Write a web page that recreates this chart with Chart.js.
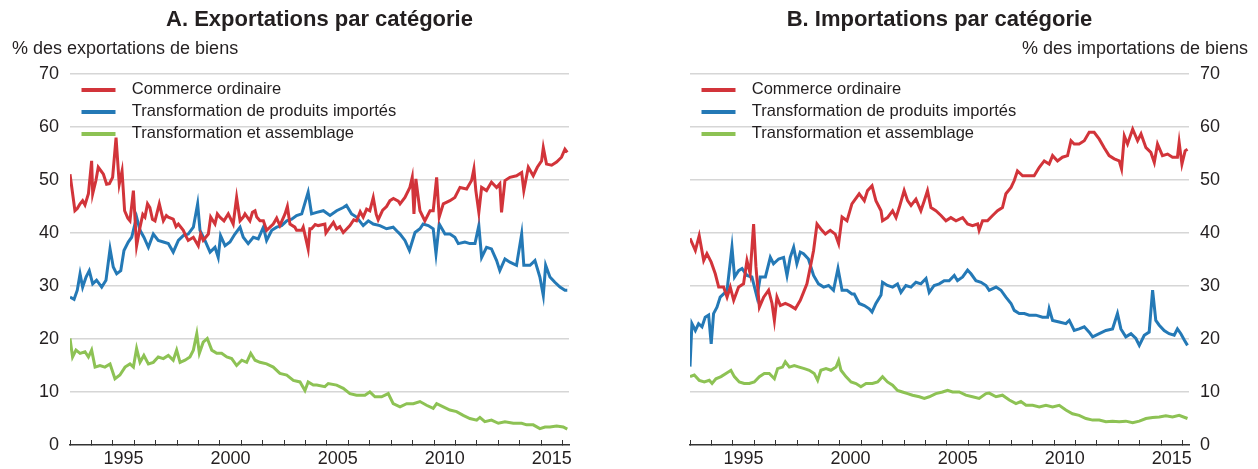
<!DOCTYPE html>
<html lang="fr">
<head>
<meta charset="utf-8">
<title>Exportations et importations par catégorie</title>
<script src="https://cdn.jsdelivr.net/npm/chart.js@4.4.1/dist/chart.umd.min.js"></script>
<style>
  html, body { margin: 0; padding: 0; background: #ffffff; }
  .wrap { display: flex; width: 1258px; height: 469px; }
  .panel { position: relative; width: 629px; height: 469px; }
</style>
</head>
<body>
<div class="wrap">
  <div class="panel"><canvas id="exportsChart"></canvas></div>
  <div class="panel"><canvas id="importsChart"></canvas></div>
</div>
<script>
// Series labels and colours
const seriesLabels = ['Commerce ordinaire', 'Transformation de produits importés', 'Transformation et assemblage'];
const seriesColors = ['#d2343a', '#2479b6', '#8dc254'];

// Axis ticks
const yTicks = [0, 10, 20, 30, 40, 50, 60, 70];
const xLabelYears = [1995, 2000, 2005, 2010, 2015];

// A. Exportations - [année, %]
const exportsOrdinary = [
  [1993.00, 51.1], [1993.23, 44.2], [1993.34, 44.6], [1993.47, 45.5], [1993.59, 46.1], [1993.70, 45.3],
  [1993.86, 47.4], [1994.01, 53.6], [1994.06, 47.4], [1994.21, 49.9], [1994.32, 52.4], [1994.45, 51.7],
  [1994.56, 51.1], [1994.71, 49.2], [1994.84, 49.3], [1994.99, 50.5], [1995.15, 58.0], [1995.30, 49.2],
  [1995.43, 51.7], [1995.55, 44.2], [1995.70, 42.8], [1995.80, 42.3], [1995.96, 48.0], [1996.11, 37.6],
  [1996.27, 41.1], [1996.40, 43.5], [1996.50, 43.0], [1996.62, 45.5], [1996.73, 44.8], [1996.85, 42.6],
  [1996.97, 42.3], [1997.17, 45.5], [1997.36, 42.3], [1997.50, 43.3], [1997.59, 43.0], [1997.82, 42.6],
  [1997.95, 41.2], [1998.06, 41.7], [1998.29, 40.5], [1998.40, 39.5], [1998.52, 38.6], [1998.76, 39.2],
  [1998.99, 37.6], [1999.10, 39.8], [1999.22, 38.6], [1999.46, 39.8], [1999.57, 43.0], [1999.77, 41.7],
  [1999.88, 43.6], [2000.00, 43.0], [2000.19, 42.3], [2000.39, 43.6], [2000.62, 41.7], [2000.78, 46.7],
  [2000.94, 42.3], [2001.09, 43.0], [2001.17, 43.6], [2001.40, 42.3], [2001.52, 43.9], [2001.64, 44.2],
  [2001.72, 43.0], [2001.87, 42.3], [2002.03, 42.3], [2002.18, 40.5], [2002.34, 41.1], [2002.49, 41.7],
  [2002.65, 42.8], [2002.80, 41.4], [2003.04, 43.6], [2003.15, 45.0], [2003.27, 41.7], [2003.50, 41.1],
  [2003.58, 40.5], [2003.82, 40.5], [2003.89, 41.1], [2004.12, 37.0], [2004.20, 40.8], [2004.28, 40.8],
  [2004.45, 41.6], [2004.59, 41.4], [2004.90, 41.7], [2004.95, 40.0], [2005.14, 41.1], [2005.30, 42.0],
  [2005.45, 40.8], [2005.60, 41.2], [2005.76, 40.1], [2006.07, 41.4], [2006.25, 42.5], [2006.38, 42.3],
  [2006.55, 44.0], [2006.69, 43.0], [2006.85, 44.5], [2007.00, 44.2], [2007.16, 46.7], [2007.30, 43.5],
  [2007.39, 42.5], [2007.60, 44.3], [2007.78, 45.0], [2007.94, 46.1], [2008.10, 46.5], [2008.33, 46.0],
  [2008.41, 45.5], [2008.64, 46.7], [2008.87, 48.6], [2008.98, 50.5], [2009.06, 43.6], [2009.15, 50.2],
  [2009.34, 44.2], [2009.57, 42.3], [2009.81, 44.2], [2009.96, 44.2], [2010.12, 50.5], [2010.24, 43.0],
  [2010.43, 45.5], [2010.74, 46.1], [2010.97, 46.7], [2011.21, 48.6], [2011.52, 48.3], [2011.75, 49.9],
  [2011.86, 52.1], [2011.95, 48.0], [2012.09, 43.9], [2012.22, 48.6], [2012.45, 48.0], [2012.68, 49.6],
  [2012.92, 48.6], [2013.07, 49.3], [2013.15, 43.9], [2013.31, 49.9], [2013.54, 50.5], [2013.85, 50.8],
  [2014.09, 51.4], [2014.19, 48.0], [2014.40, 52.4], [2014.63, 50.8], [2014.82, 52.4], [2015.02, 53.6],
  [2015.10, 56.1], [2015.25, 53.0], [2015.49, 52.8], [2015.72, 53.4], [2015.95, 54.3], [2016.11, 55.8],
  [2016.22, 55.2]
];
const exportsProcessing = [
  [1993.00, 27.9], [1993.19, 27.5], [1993.34, 29.2], [1993.47, 32.3], [1993.59, 29.8], [1993.75, 31.7],
  [1993.90, 32.9], [1994.06, 30.4], [1994.24, 31.1], [1994.48, 29.8], [1994.68, 31.1], [1994.87, 37.0],
  [1995.02, 33.6], [1995.18, 32.3], [1995.37, 32.9], [1995.52, 36.7], [1995.72, 38.3], [1995.88, 39.2],
  [1996.11, 43.0], [1996.27, 40.5], [1996.45, 39.2], [1996.66, 37.3], [1996.89, 39.8], [1997.12, 38.6],
  [1997.36, 38.3], [1997.59, 38.0], [1997.82, 36.4], [1998.06, 38.6], [1998.29, 39.5], [1998.52, 39.8],
  [1998.76, 41.1], [1998.96, 45.5], [1999.07, 40.5], [1999.30, 38.6], [1999.54, 36.4], [1999.77, 37.3],
  [1999.92, 35.4], [2000.03, 39.5], [2000.24, 37.6], [2000.47, 38.3], [2000.70, 39.8], [2000.94, 41.1],
  [2001.09, 39.2], [2001.32, 38.0], [2001.56, 39.2], [2001.79, 38.9], [2002.03, 41.1], [2002.18, 38.6],
  [2002.42, 40.5], [2002.65, 41.1], [2002.88, 41.4], [2003.12, 42.3], [2003.35, 42.6], [2003.58, 43.3],
  [2003.82, 43.6], [2004.12, 47.7], [2004.28, 43.6], [2004.52, 43.9], [2004.83, 44.2], [2005.14, 43.3],
  [2005.45, 44.2], [2005.76, 44.8], [2005.91, 45.2], [2006.15, 43.6], [2006.38, 43.0], [2006.69, 41.4],
  [2006.93, 42.3], [2007.16, 41.7], [2007.47, 41.4], [2007.78, 40.8], [2008.09, 41.1], [2008.33, 40.1],
  [2008.41, 39.8], [2008.64, 38.6], [2008.85, 36.7], [2009.11, 40.1], [2009.34, 40.8], [2009.49, 41.7],
  [2009.73, 41.4], [2009.96, 40.8], [2010.09, 36.1], [2010.24, 41.7], [2010.51, 39.8], [2010.74, 39.8],
  [2010.97, 39.2], [2011.13, 38.0], [2011.44, 38.3], [2011.67, 38.0], [2011.91, 38.0], [2012.09, 41.4],
  [2012.22, 35.4], [2012.45, 37.3], [2012.68, 37.0], [2012.92, 34.8], [2013.07, 32.9], [2013.31, 35.1],
  [2013.54, 34.5], [2013.85, 33.9], [2014.09, 39.8], [2014.19, 33.9], [2014.48, 33.9], [2014.71, 34.8],
  [2014.94, 31.7], [2015.10, 28.2], [2015.21, 33.9], [2015.41, 31.7], [2015.64, 30.7], [2015.88, 29.8],
  [2016.11, 29.2], [2016.22, 29.2]
];
const exportsAssembly = [
  [1993.00, 20.1], [1993.12, 16.6], [1993.28, 17.9], [1993.47, 17.3], [1993.70, 17.6], [1993.86, 16.6],
  [1994.01, 17.9], [1994.17, 14.7], [1994.40, 15.0], [1994.63, 14.7], [1994.87, 15.3], [1995.10, 12.5],
  [1995.33, 13.2], [1995.57, 14.7], [1995.80, 15.3], [1995.96, 14.7], [1996.11, 18.2], [1996.27, 15.6],
  [1996.45, 16.9], [1996.66, 15.3], [1996.89, 15.6], [1997.12, 16.6], [1997.36, 16.3], [1997.59, 16.9],
  [1997.82, 16.0], [1997.98, 17.9], [1998.14, 15.6], [1998.37, 16.0], [1998.60, 16.6], [1998.76, 17.9],
  [1998.92, 21.0], [1999.04, 17.3], [1999.22, 19.4], [1999.41, 20.1], [1999.62, 17.9], [1999.85, 17.3],
  [2000.08, 17.3], [2000.32, 16.6], [2000.55, 16.3], [2000.78, 15.0], [2001.02, 16.0], [2001.25, 15.6],
  [2001.44, 17.3], [2001.64, 16.0], [2001.87, 15.6], [2002.18, 15.3], [2002.49, 14.7], [2002.80, 13.5],
  [2003.12, 13.2], [2003.43, 12.2], [2003.74, 11.9], [2003.97, 10.3], [2004.12, 11.9], [2004.36, 11.3],
  [2004.52, 11.3], [2004.90, 11.0], [2005.06, 11.6], [2005.45, 11.3], [2005.76, 10.7], [2006.07, 9.7],
  [2006.38, 9.4], [2006.77, 9.4], [2007.00, 10.0], [2007.24, 9.1], [2007.55, 9.1], [2007.86, 9.7],
  [2008.09, 7.8], [2008.41, 7.2], [2008.72, 7.8], [2009.03, 7.8], [2009.34, 8.2], [2009.65, 7.5],
  [2009.96, 6.9], [2010.12, 7.8], [2010.43, 7.2], [2010.74, 6.6], [2011.05, 6.3], [2011.36, 5.6],
  [2011.67, 5.0], [2011.99, 4.7], [2012.14, 5.2], [2012.37, 4.4], [2012.68, 4.7], [2013.00, 4.1],
  [2013.31, 4.4], [2013.70, 4.1], [2014.09, 4.1], [2014.32, 3.8], [2014.63, 3.8], [2014.94, 3.1],
  [2015.18, 3.4], [2015.41, 3.4], [2015.72, 3.6], [2016.03, 3.4], [2016.22, 3.0]
];

// B. Importations - [année, %]
const importsOrdinary = [
  [1993.00, 39.0], [1993.25, 36.7], [1993.43, 39.5], [1993.64, 34.8], [1993.79, 36.1], [1993.99, 34.5],
  [1994.18, 32.3], [1994.34, 29.8], [1994.57, 29.8], [1994.73, 27.9], [1994.88, 29.8], [1995.04, 27.3],
  [1995.27, 29.8], [1995.50, 30.4], [1995.66, 34.8], [1995.81, 32.3], [1995.97, 41.7], [1996.08, 33.6],
  [1996.24, 26.0], [1996.44, 27.9], [1996.67, 29.2], [1996.83, 26.7], [1996.94, 23.5], [1997.06, 27.9],
  [1997.22, 26.3], [1997.45, 26.7], [1997.68, 26.3], [1997.92, 25.7], [1998.15, 27.3], [1998.30, 28.8],
  [1998.46, 30.4], [1998.62, 33.6], [1998.77, 36.7], [1998.93, 41.7], [1999.16, 40.5], [1999.32, 39.8],
  [1999.55, 40.5], [1999.78, 39.8], [1999.94, 38.0], [2000.10, 43.0], [2000.33, 42.3], [2000.56, 45.5],
  [2000.67, 46.1], [2000.90, 47.4], [2001.14, 46.1], [2001.29, 48.0], [2001.50, 48.9], [2001.68, 46.1],
  [2001.92, 44.2], [2001.99, 42.3], [2002.22, 42.9], [2002.46, 44.2], [2002.62, 42.9], [2002.77, 44.8],
  [2003.00, 48.0], [2003.16, 46.1], [2003.32, 45.2], [2003.55, 46.4], [2003.78, 44.2], [2003.94, 46.1],
  [2004.09, 48.0], [2004.25, 44.8], [2004.48, 44.2], [2004.72, 43.3], [2004.95, 42.3], [2005.18, 42.9],
  [2005.42, 42.3], [2005.73, 42.9], [2005.96, 41.7], [2006.19, 41.4], [2006.43, 41.7], [2006.50, 40.5],
  [2006.66, 42.3], [2006.89, 42.3], [2007.13, 43.3], [2007.36, 44.2], [2007.59, 44.8], [2007.75, 47.4],
  [2007.99, 48.6], [2008.14, 49.9], [2008.29, 51.7], [2008.53, 50.8], [2008.84, 50.8], [2009.07, 50.8],
  [2009.31, 52.4], [2009.54, 53.6], [2009.77, 53.0], [2009.93, 54.6], [2010.16, 53.6], [2010.39, 54.3],
  [2010.63, 54.6], [2010.79, 57.4], [2010.94, 56.8], [2011.17, 56.8], [2011.41, 57.4], [2011.64, 59.0],
  [2011.87, 59.0], [2012.11, 57.7], [2012.34, 56.1], [2012.57, 54.6], [2012.81, 54.0], [2013.04, 53.6],
  [2013.15, 52.1], [2013.28, 58.3], [2013.43, 56.8], [2013.67, 59.6], [2013.90, 57.4], [2014.06, 58.7],
  [2014.29, 56.1], [2014.52, 55.2], [2014.68, 53.3], [2014.83, 56.8], [2015.06, 54.6], [2015.30, 54.9],
  [2015.53, 54.3], [2015.76, 54.3], [2015.84, 57.1], [2015.97, 53.0], [2016.12, 55.5], [2016.23, 55.8]
];
const importsProcessing = [
  [1993.00, 14.8], [1993.09, 22.9], [1993.25, 21.6], [1993.40, 22.9], [1993.56, 22.3], [1993.71, 24.1],
  [1993.87, 24.5], [1993.99, 19.1], [1994.10, 24.8], [1994.26, 26.0], [1994.41, 27.9], [1994.57, 28.5],
  [1994.73, 29.2], [1994.96, 37.3], [1995.08, 31.7], [1995.27, 32.9], [1995.43, 33.3], [1995.66, 32.0],
  [1995.89, 31.7], [1996.13, 27.9], [1996.28, 31.7], [1996.52, 31.7], [1996.75, 35.4], [1996.90, 34.2],
  [1997.14, 35.1], [1997.37, 35.4], [1997.53, 32.0], [1997.68, 35.4], [1997.84, 37.3], [1997.99, 34.2],
  [1998.15, 36.4], [1998.30, 36.1], [1998.53, 35.1], [1998.77, 32.0], [1999.00, 30.4], [1999.24, 29.8],
  [1999.47, 30.1], [1999.70, 29.2], [1999.91, 33.3], [2000.10, 29.2], [2000.33, 29.2], [2000.56, 28.5],
  [2000.67, 28.5], [2000.90, 26.7], [2001.14, 26.3], [2001.37, 25.7], [2001.50, 25.1], [2001.68, 26.7],
  [2001.92, 28.3], [2001.99, 30.7], [2002.22, 30.1], [2002.46, 29.8], [2002.69, 30.4], [2002.85, 28.8],
  [2003.08, 30.1], [2003.32, 29.8], [2003.55, 30.7], [2003.78, 30.4], [2004.02, 31.4], [2004.17, 28.8],
  [2004.40, 30.1], [2004.64, 30.4], [2004.87, 31.0], [2005.10, 31.0], [2005.34, 32.0], [2005.49, 31.0],
  [2005.73, 31.7], [2005.96, 33.0], [2006.12, 32.3], [2006.35, 31.0], [2006.59, 30.7], [2006.82, 30.1],
  [2006.97, 29.2], [2007.29, 29.8], [2007.52, 29.2], [2007.75, 27.9], [2007.99, 26.7], [2008.14, 25.4],
  [2008.37, 24.8], [2008.61, 24.8], [2008.84, 24.5], [2009.15, 24.5], [2009.46, 24.1], [2009.70, 24.1],
  [2009.77, 25.7], [2009.93, 23.5], [2010.24, 23.2], [2010.55, 22.9], [2010.71, 23.5], [2010.94, 21.6],
  [2011.17, 21.9], [2011.41, 22.3], [2011.64, 21.3], [2011.80, 20.4], [2012.11, 21.0], [2012.42, 21.6],
  [2012.73, 21.9], [2012.96, 24.8], [2013.12, 21.9], [2013.35, 20.4], [2013.59, 21.0], [2013.82, 20.1],
  [2013.98, 18.8], [2014.21, 20.7], [2014.44, 21.3], [2014.60, 29.2], [2014.75, 23.5], [2014.91, 22.6],
  [2015.14, 21.6], [2015.37, 21.0], [2015.61, 20.7], [2015.76, 21.9], [2015.92, 21.0], [2016.08, 19.8],
  [2016.23, 18.8]
];
const importsAssembly = [
  [1993.00, 12.9], [1993.20, 13.2], [1993.43, 12.2], [1993.67, 11.9], [1993.90, 12.2], [1994.03, 11.6],
  [1994.21, 12.5], [1994.45, 12.9], [1994.68, 13.5], [1994.91, 14.1], [1995.07, 12.9], [1995.30, 11.9],
  [1995.53, 11.6], [1995.77, 11.6], [1996.00, 11.9], [1996.24, 12.9], [1996.47, 13.5], [1996.70, 13.5],
  [1996.94, 12.5], [1997.09, 14.4], [1997.32, 14.7], [1997.45, 15.7], [1997.64, 14.7], [1997.87, 15.0],
  [1998.10, 14.7], [1998.34, 14.4], [1998.57, 14.1], [1998.80, 13.5], [1998.96, 12.2], [1999.11, 14.1],
  [1999.35, 14.4], [1999.58, 14.1], [1999.82, 14.7], [1999.94, 15.9], [2000.05, 14.1], [2000.28, 12.9],
  [2000.52, 11.9], [2000.75, 11.6], [2000.98, 11.0], [2001.22, 11.6], [2001.52, 11.6], [2001.76, 11.9],
  [2001.99, 12.9], [2002.22, 11.9], [2002.46, 11.3], [2002.69, 10.3], [2002.92, 10.0], [2003.16, 9.7],
  [2003.39, 9.4], [2003.71, 9.1], [2003.94, 8.8], [2004.17, 9.1], [2004.48, 9.7], [2004.79, 10.0],
  [2005.03, 10.3], [2005.26, 10.0], [2005.57, 10.0], [2005.88, 9.4], [2006.19, 9.1], [2006.50, 8.8],
  [2006.82, 9.7], [2006.97, 9.8], [2007.29, 9.1], [2007.59, 9.4], [2007.91, 8.5], [2008.22, 7.8],
  [2008.45, 8.2], [2008.69, 7.5], [2009.00, 7.5], [2009.31, 7.2], [2009.62, 7.5], [2009.93, 7.2],
  [2010.24, 7.5], [2010.55, 6.6], [2010.86, 5.9], [2011.17, 5.6], [2011.49, 5.0], [2011.80, 4.7],
  [2012.11, 4.7], [2012.42, 4.4], [2012.73, 4.5], [2013.04, 4.4], [2013.35, 4.5], [2013.67, 4.2],
  [2013.98, 4.5], [2014.29, 5.0], [2014.60, 5.2], [2014.91, 5.3], [2015.22, 5.5], [2015.53, 5.3],
  [2015.84, 5.6], [2016.23, 5.0]
];

document.addEventListener('DOMContentLoaded', () => {
    Chart.defaults.font.family = "'Liberation Sans', Arial, Helvetica, sans-serif";
    Chart.defaults.color = '#231f20';

    // Legend swatch: short thick line with some room on both sides
    const makeSwatch = (color) => {
        const c = document.createElement('canvas');
        c.width = 48;
        c.height = 4;
        const g = c.getContext('2d');
        g.fillStyle = color;
        g.fillRect(6, 0, 34, 4);
        return c;
    };
    const swatches = seriesColors.map(makeSwatch);

    // The vertical legend keeps top = 0 when put in the chart area, move it down
    const legendInPlot = {
        id: 'legendInPlot',
        afterLayout(chart) {
            const lg = chart.legend;
            if (!lg) return;
            const h = lg.bottom - lg.top;
            lg.top = chart.chartArea.top + 2;
            lg.bottom = lg.top + h;
        }
    };

    const toPoints = (arr) => arr.map(([x, y]) => ({ x, y }));

    const buildChart = (canvasId, cfg) => {
        const datasets = cfg.series.map((s, i) => ({
            label: seriesLabels[i],
            data: toPoints(s),
            borderColor: seriesColors[i],
            backgroundColor: seriesColors[i],
            borderWidth: 3,
            pointRadius: 0,
            tension: 0,
            fill: false
        }));

        return new Chart(document.getElementById(canvasId), {
            type: 'line',
            data: { datasets },
            plugins: [legendInPlot],
            options: {
                responsive: true,
                maintainAspectRatio: false,
                animation: false,
                layout: { padding: cfg.padding },
                plugins: {
                    title: {
                        display: true,
                        text: cfg.title,
                        fullSize: false,
                        font: { size: 22, weight: 'bold' },
                        padding: { top: 7, bottom: 3 }
                    },
                    subtitle: {
                        display: true,
                        text: cfg.unit,
                        align: cfg.unitAlign,
                        font: { size: 18 },
                        padding: { top: 2, bottom: 14 }
                    },
                    legend: {
                        position: 'chartArea',
                        align: 'start',
                        labels: {
                            usePointStyle: true,
                            pointStyleWidth: 48,
                            padding: 5.5,
                            font: { size: 16.5 },
                            generateLabels: (chart) => Chart.defaults.plugins.legend.labels
                                .generateLabels(chart)
                                .map(item => ({ ...item, pointStyle: swatches[item.datasetIndex] }))
                        }
                    },
                    tooltip: { enabled: false }
                },
                scales: {
                    x: {
                        type: 'linear',
                        min: 1993,
                        max: 2016.3,
                        afterFit: (scale) => { scale.height = 24; },
                        grid: {
                            display: true,
                            drawOnChartArea: false,
                            drawTicks: true,
                            tickLength: -5,
                            color: '#333333',
                            lineWidth: 1
                        },
                        border: { display: true, color: '#333333', width: 1.5 },
                        ticks: {
                            stepSize: 1,
                            autoSkip: false,
                            maxRotation: 0,
                            includeBounds: false,
                            labelOffset: 10.7,
                            padding: 8,
                            font: { size: 18 },
                            callback: (value) => xLabelYears.includes(value) ? String(value) : ''
                        }
                    },
                    y: {
                        position: cfg.yPosition,
                        min: yTicks[0],
                        max: yTicks[yTicks.length - 1],
                        afterFit: (scale) => { scale.width = cfg.yWidth; },
                        afterBuildTicks: (scale) => { scale.ticks = yTicks.map(v => ({ value: v })); },
                        grid: {
                            drawTicks: false,
                            lineWidth: 1.5,
                            color: (ctx) => ctx.tick && ctx.tick.value === 0 ? 'rgba(0,0,0,0)' : '#d6d6d6'
                        },
                        border: { display: false },
                        ticks: {
                            padding: 11,
                            font: { size: 18 }
                        }
                    }
                }
            }
        });
    };

    // 1. Panel A - exports
    buildChart('exportsChart', {
        title: 'A. Exportations par catégorie',
        unit: '% des exportations de biens',
        unitAlign: 'start',
        yPosition: 'left',
        yWidth: 58,
        padding: { left: 12, right: 60, top: 0, bottom: 0 },
        series: [exportsOrdinary, exportsProcessing, exportsAssembly]
    });

    // 2. Panel B - imports
    buildChart('importsChart', {
        title: 'B. Importations par catégorie',
        unit: '% des importations de biens',
        unitAlign: 'end',
        yPosition: 'right',
        yWidth: 59,
        padding: { left: 61, right: 10, top: 0, bottom: 0 },
        series: [importsOrdinary, importsProcessing, importsAssembly]
    });
});
</script>
</body>
</html>
